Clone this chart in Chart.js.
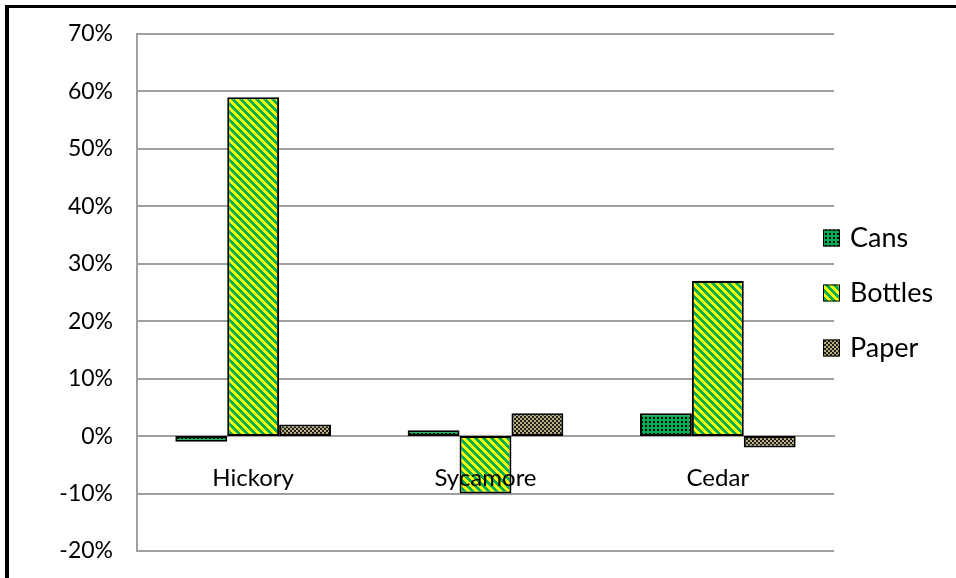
<!DOCTYPE html>
<html>
<head>
<meta charset="utf-8">
<script src="https://cdn.jsdelivr.net/npm/chart.js@4"></script>
<style>
  html, body { margin: 0; padding: 0; background: #fff; }
  #wrap { position: relative; width: 956px; height: 578px; overflow: hidden; }
  #frame { position: absolute; left: 5px; top: 5px; width: 1000px; height: 700px;
           border-top: 3px solid #000; border-left: 4px solid #000; }
  #chart { position: absolute; left: 0; top: 0; }
</style>
</head>
<body>
<div id="wrap">
  <div id="frame"></div>
  <canvas id="chart" width="956" height="578"></canvas>
</div>
<script>
  'use strict';

  var categories = ['Hickory', 'Sycamore', 'Cedar'];
  var seriesNames = ['Cans', 'Bottles', 'Paper'];
  var cans    = [-0.01,  0.01,  0.04];
  var bottles = [ 0.59, -0.10,  0.27];
  var paper   = [ 0.02,  0.04, -0.02];
  var yTicks  = { min: -0.2, max: 0.7, step: 0.1 };

  var FONT = 'Lato, "Open Sans", sans-serif';
  var canvas = document.getElementById('chart');
  var ctx = canvas.getContext('2d');

  function tile(size, draw) {
    var c = document.createElement('canvas');
    c.width = size; c.height = size;
    draw(c.getContext('2d'));
    return ctx.createPattern(c, 'repeat');
  }

  // green with small black dots
  var cansFill = tile(4, function(g) {
    g.fillStyle = '#00B050'; g.fillRect(0, 0, 4, 4);
    g.fillStyle = '#000'; g.fillRect(1, 1, 2, 2);
  });
  // yellow / green wide downward diagonal
  var bottlesFill = tile(8, function(g) {
    for (var y = 0; y < 8; y++) {
      for (var x = 0; x < 8; x++) {
        g.fillStyle = (((x - y) % 8) + 8) % 8 < 4 ? '#FFFF00' : '#00B050';
        g.fillRect(x, y, 1, 1);
      }
    }
  });
  // tan / black small checker
  var paperFill = tile(4, function(g) {
    g.fillStyle = '#BCAF7C'; g.fillRect(0, 0, 4, 4);
    g.fillStyle = '#1e1e1e'; g.fillRect(0, 0, 2, 2); g.fillRect(2, 2, 2, 2);
  });

  var fills = [cansFill, bottlesFill, paperFill];
  var values = [cans, bottles, paper];

  var datasets = seriesNames.map(function(name, i) {
    return {
      label: name,
      data: values[i],
      backgroundColor: fills[i],
      borderColor: '#000',
      borderWidth: 2,
      borderSkipped: false,
      categoryPercentage: 0.67,
      barPercentage: 1.0
    };
  });

  var legendPlugin = {
    id: 'sideLegend',
    afterDraw: function(chart) {
      var c = chart.ctx, area = chart.chartArea;
      var mid = (area.top + area.bottom) / 2;
      var n = chart.data.datasets.length;
      c.save();
      c.font = '27px ' + FONT;
      c.textBaseline = 'middle';
      c.textAlign = 'left';
      chart.data.datasets.forEach(function(ds, i) {
        var cy = mid + (i - (n - 1) / 2) * 55;
        var bx = area.right - 11;
        c.fillStyle = ds.backgroundColor;
        c.fillRect(bx, cy - 8, 17, 17);
        c.strokeStyle = '#000';
        c.lineWidth = 1;
        c.strokeRect(bx + 0.5, cy - 7.5, 16, 16);
        c.fillStyle = '#000';
        c.fillText(ds.label, bx + 27, cy + 1);
      });
      c.restore();
    }
  };

  new Chart(ctx, {
    type: 'bar',
    data: { labels: categories, datasets: datasets },
    plugins: [legendPlugin],
    options: {
      responsive: false,
      animation: false,
      layout: { padding: { left: 0, right: 122, top: 34, bottom: 27 } },
      plugins: { legend: { display: false }, tooltip: { enabled: false } },
      scales: {
        x: {
          position: { y: 0 },
          afterFit: function(s) { s.height = 0; s.paddingLeft = 0; s.paddingRight = 0; },
          grid: { display: false, drawTicks: false },
          border: { display: true, color: '#a0a0a0', width: 2 },
          ticks: { z: 1, color: '#000', font: { family: FONT, size: 24 }, padding: 28 }
        },
        y: {
          min: yTicks.min,
          max: yTicks.max,
          afterFit: function(s) { s.width = 137; s.paddingTop = 0; s.paddingBottom = 0; },
          grid: { color: '#a0a0a0', lineWidth: 2, drawTicks: false },
          border: { display: true, color: '#a0a0a0', width: 2 },
          ticks: {
            stepSize: yTicks.step,
            color: '#000',
            padding: 24,
            font: { family: FONT, size: 23 },
            callback: function(v) { return Math.round(v * 100) + '%'; }
          }
        }
      }
    }
  });
</script>
</body>
</html>
